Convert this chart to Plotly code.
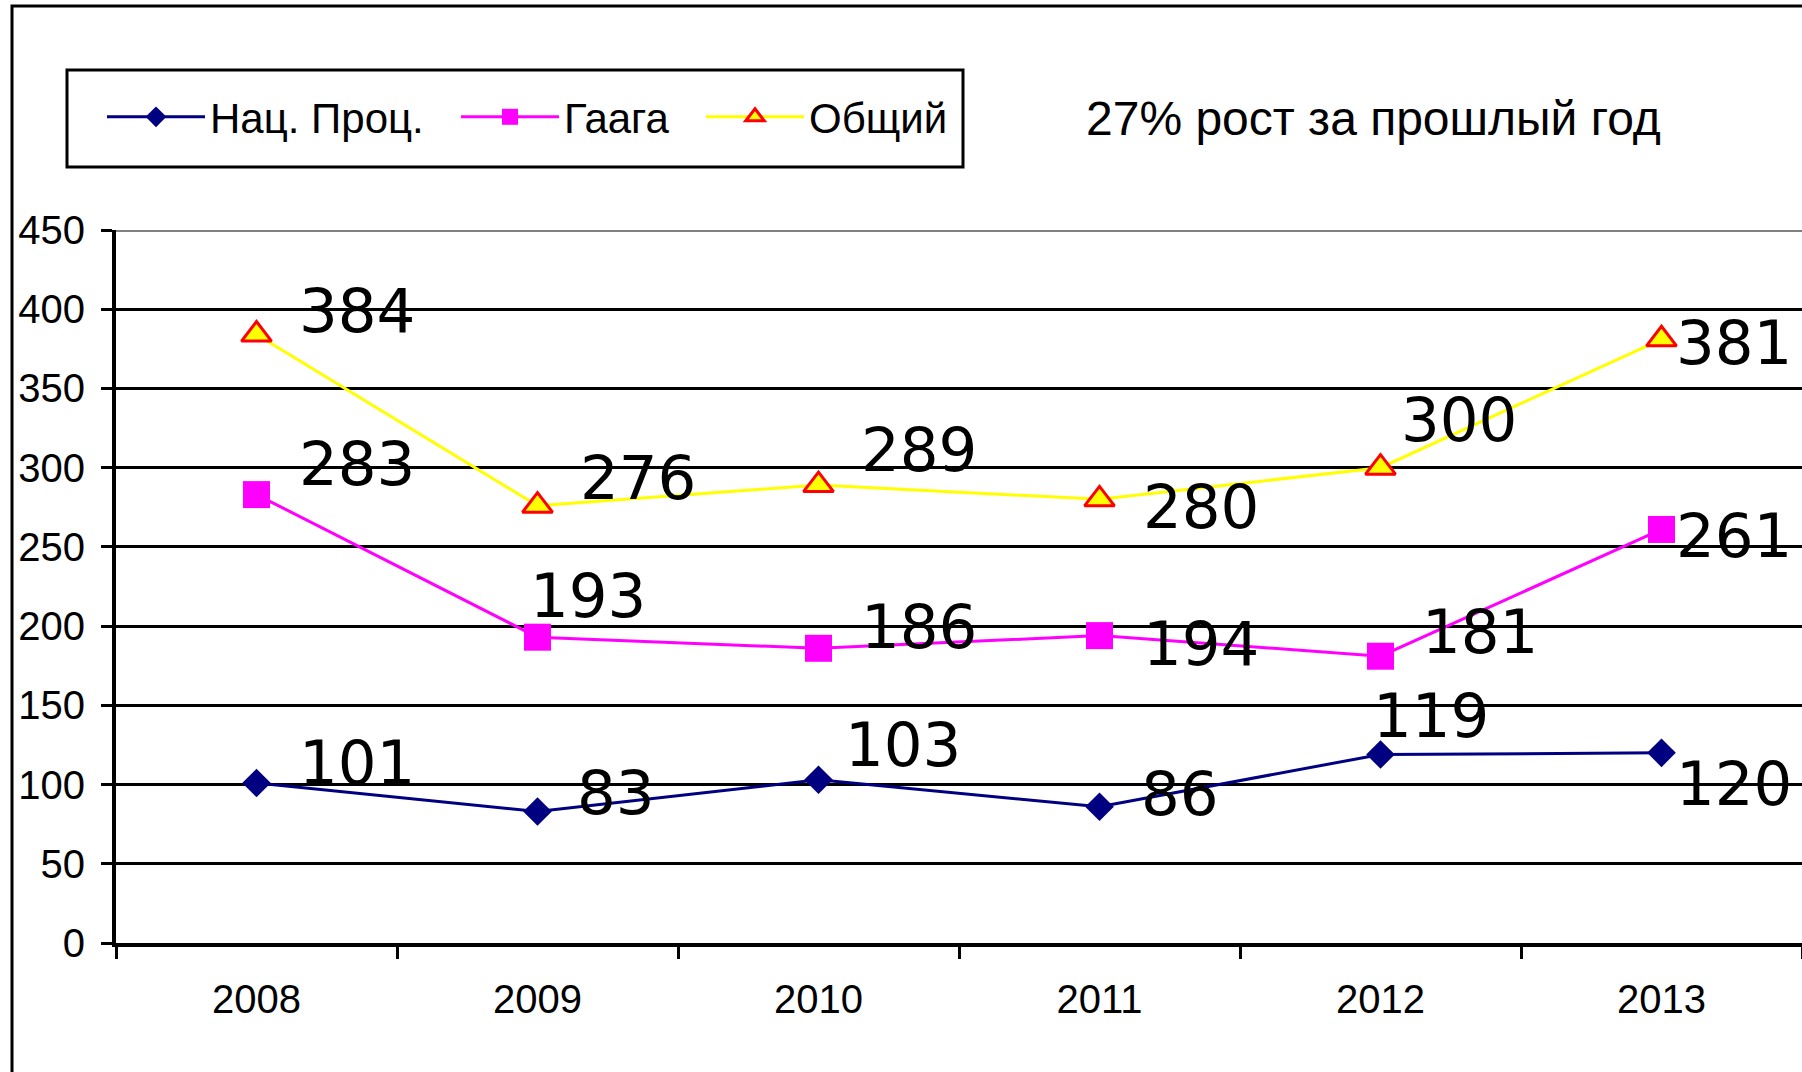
import plotly.graph_objects as go

# ---- data ----
years = ["2008", "2009", "2010", "2011", "2012", "2013"]
nat_proc = [101, 83, 103, 86, 119, 120]
gaaga = [283, 193, 186, 194, 181, 261]
obshchiy = [384, 276, 289, 280, 300, 381]
series_names = ["Нац. Проц.", "Гаага", "Общий"]
note_text = "27% рост за прошлый год"
y_ticks = [0, 50, 100, 150, 200, 250, 300, 350, 400, 450]

# ---- label offsets (px) relative to each point: (dx to left edge, dy up) ----
nat_off = [(40, 20), (37, 19), (24, 35), (39, 13), (-10, 39), (12, -31)]
gaaga_off = [(40, 31), (-10, 42), (40, 22), (41, -8), (39, 25), (12, -6)]
obsh_off = [(40, 24), (40, 28), (40, 36), (41, -7), (18, 48), (12, -3)]

W_FIG, H_FIG = 1802, 1072
L, R, T = 116, 0, 230
PH = 713
B = H_FIG - T - PH
PW = W_FIG - L - R


def px_x(px):
    """page x pixel -> paper fraction"""
    return (px - L) / PW


def px_y(py):
    """page y pixel -> paper fraction"""
    return (T + PH - py) / PH


TICK_FONT = dict(family="Liberation Sans, Arial, sans-serif", size=40, color="black")
LEG_FONT = dict(family="Liberation Sans, Arial, sans-serif", size=42, color="black")
LBL_FONT = dict(family="DejaVu Sans, sans-serif", size=61, color="black")

fig = go.Figure()

fig.add_trace(go.Scatter(
    x=years, y=nat_proc, name=series_names[0], mode="lines+markers",
    line=dict(color="#000080", width=3),
    marker=dict(symbol="diamond", size=22, color="#000080"),
    legend="legend",
))
fig.add_trace(go.Scatter(
    x=years, y=gaaga, name=series_names[1], mode="lines+markers",
    line=dict(color="#FF00FF", width=3),
    marker=dict(symbol="square", size=27, color="#FF00FF"),
    legend="legend2",
))
fig.add_trace(go.Scatter(
    x=years, y=obshchiy, name=series_names[2], mode="lines+markers",
    line=dict(color="#FFFF00", width=3),
    marker=dict(symbol="triangle-up", size=26, color="#FFFF00",
                line=dict(color="#FF0000", width=3)),
    legend="legend3",
))

annotations = []
for vals, offs in ((nat_proc, nat_off), (gaaga, gaaga_off), (obshchiy, obsh_off)):
    for i, (v, (dx, dy)) in enumerate(zip(vals, offs)):
        annotations.append(dict(
            x=i, y=v, xref="x", yref="y", text=str(v), showarrow=False,
            xanchor="left", yanchor="middle", xshift=dx, yshift=dy,
            font=LBL_FONT,
        ))

annotations.append(dict(
    x=px_x(1084), y=px_y(118), xref="paper", yref="paper", text=note_text,
    showarrow=False, xanchor="left", yanchor="middle",
    font=dict(family="Liberation Sans, Arial, sans-serif", size=48, color="black"),
))

shapes = [
    # outer frame
    dict(type="rect", xref="paper", yref="paper",
         x0=px_x(12), x1=px_x(1900), y0=px_y(1200), y1=px_y(6),
         line=dict(color="black", width=3), fillcolor="rgba(0,0,0,0)", layer="below"),
    # legend box
    dict(type="rect", xref="paper", yref="paper",
         x0=px_x(67), x1=px_x(963), y0=px_y(167), y1=px_y(70),
         line=dict(color="black", width=3), fillcolor="rgba(0,0,0,0)"),
    # grey plot-area top border
    dict(type="line", xref="paper", yref="y", x0=0, x1=1, y0=450, y1=450,
         line=dict(color="#808080", width=4), layer="above"),
]

leg_common = dict(orientation="h", xanchor="left", yanchor="middle",
                  y=px_y(117), bgcolor="rgba(0,0,0,0)", borderwidth=0,
                  font=LEG_FONT, itemwidth=98)

fig.update_layout(
    width=W_FIG, height=H_FIG,
    margin=dict(l=L, r=R, t=T, b=B, pad=0, autoexpand=False),
    paper_bgcolor="white", plot_bgcolor="white",
    showlegend=True,
    legend=dict(x=px_x(102), **leg_common),
    legend2=dict(x=px_x(456), **leg_common),
    legend3=dict(x=px_x(701), **leg_common),
    annotations=annotations,
    shapes=shapes,
    xaxis=dict(
        type="category", range=[-0.5, 5.5], showgrid=False,
        showline=True, linecolor="black", linewidth=4,
        ticks="outside", tickson="boundaries", ticklen=12, tickwidth=3,
        tickcolor="black", tickfont=TICK_FONT, ticklabelstandoff=18,
        fixedrange=True,
    ),
    yaxis=dict(
        range=[0, 450], tickvals=y_ticks, showgrid=True, gridcolor="black",
        gridwidth=3, zeroline=False, showline=True, linecolor="black",
        linewidth=4, ticks="outside", ticklen=11, tickwidth=3,
        tickcolor="black", tickfont=TICK_FONT, ticklabelstandoff=8,
        fixedrange=True,
    ),
)

fig.write_html(
    "out.html",
    config={"displayModeBar": False},
    post_script="document.body.style.margin='0';document.body.style.overflow='hidden';",
)
